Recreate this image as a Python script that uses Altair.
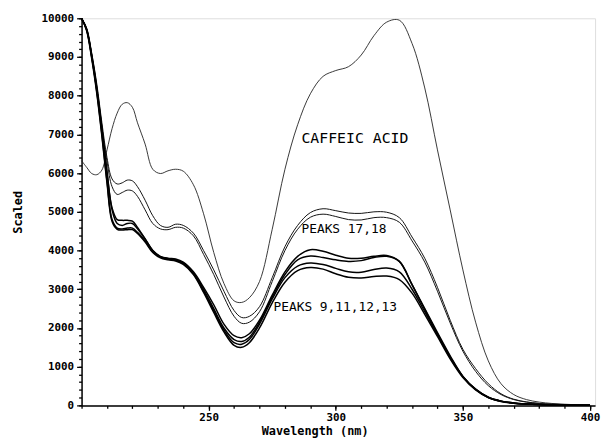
import altair as alt
import pandas as pd

wavelength = [200, 202, 204, 206, 208, 210, 212, 214, 216, 218, 220, 222, 225, 228, 231, 234, 237, 240,
              244, 248, 252, 256, 260, 263, 266, 270, 275, 280, 285, 290, 295, 300, 305, 310, 315, 320,
              325, 330, 335, 340, 345, 350, 355, 360, 365, 370, 375, 380, 385, 390, 395, 400]

caffeic = [6320, 6150, 5990, 5960, 6080, 6600, 7150, 7550, 7780, 7820, 7700, 7300, 6750, 6100, 5990, 6060, 6100, 6050,
           5700, 4950, 3950, 3150, 2700, 2660, 2780, 3200, 4550, 6100, 7250, 8050, 8500, 8650, 8750, 9050, 9550, 9900,
           9950, 9350, 8200, 6600, 5050, 3500, 2150, 1150, 560, 280, 150, 85, 50, 30, 15, 10]

peak17 = [10000, 9750, 9100, 8300, 7300, 6400, 5850, 5720, 5750, 5820, 5800, 5650, 5300, 4900, 4650, 4600, 4680, 4650,
          4450, 4000, 3500, 2950, 2450, 2270, 2300, 2550, 3300, 4100, 4650, 4980, 5080, 5030, 4970, 4960, 5000, 4990,
          4850, 4350, 3800, 3050, 2200, 1450, 950, 560, 300, 160, 90, 50, 30, 20, 10, 5]

peak18 = [10000, 9720, 9050, 8200, 7200, 6300, 5650, 5450, 5500, 5560, 5540, 5400, 5050, 4700, 4560, 4540, 4600, 4580,
          4380, 3900, 3380, 2800, 2300, 2120, 2150, 2420, 3200, 4000, 4550, 4860, 4940, 4880, 4800, 4790, 4850, 4850,
          4730, 4250, 3700, 2950, 2130, 1400, 880, 510, 280, 150, 85, 50, 30, 20, 10, 5]

bundle_a = [10000, 9700, 9000, 8150, 7100, 6000, 5100, 4800, 4780, 4780, 4760, 4600, 4300, 4000, 3850, 3800, 3780, 3700,
            3450, 3050, 2600, 2100, 1800, 1750, 1850, 2200, 2850, 3450, 3850, 4020, 3980, 3880, 3800, 3800, 3850, 3870,
            3720, 3120, 2500, 1880, 1280, 750, 420, 210, 110, 60, 35, 20, 12, 8, 5, 3]

bundle_b = [10000, 9720, 9050, 8200, 7150, 6050, 5050, 4700, 4650, 4700, 4700, 4560, 4300, 4000, 3840, 3790, 3760, 3680,
            3420, 3000, 2500, 2000, 1700, 1650, 1760, 2150, 2800, 3380, 3760, 3860, 3820, 3760, 3720, 3740, 3820, 3850,
            3720, 3120, 2480, 1850, 1250, 750, 420, 210, 110, 60, 35, 20, 12, 8, 5, 3]

bundle_c = [10000, 9700, 9000, 8100, 7000, 5800, 4800, 4580, 4560, 4580, 4580, 4470, 4250, 3970, 3830, 3780, 3750, 3660,
            3400, 2950, 2450, 1950, 1620, 1580, 1700, 2100, 2750, 3300, 3600, 3680, 3640, 3540, 3450, 3440, 3510, 3550,
            3450, 3000, 2420, 1820, 1230, 740, 410, 205, 105, 55, 33, 20, 12, 8, 5, 3]

bundle_d = [10000, 9680, 8950, 8050, 6950, 5750, 4750, 4550, 4530, 4540, 4540, 4440, 4220, 3950, 3810, 3760, 3730, 3640,
            3380, 2920, 2400, 1900, 1550, 1500, 1620, 2000, 2650, 3180, 3480, 3560, 3520, 3400, 3310, 3290, 3330, 3340,
            3250, 2900, 2350, 1780, 1200, 720, 400, 200, 100, 55, 33, 20, 12, 8, 5, 3]

series = {
    "Caffeic acid": ("caffeic", caffeic),
    "Peak 17": ("peaks1718", peak17),
    "Peak 18": ("peaks1718", peak18),
    "Peak 9": ("bundle", bundle_a),
    "Peak 11": ("bundle", bundle_b),
    "Peak 12": ("bundle", bundle_c),
    "Peak 13": ("bundle", bundle_d),
}

rows = []
for name, (group, vals) in series.items():
    for w, v in zip(wavelength, vals):
        rows.append({"series": name, "group": group, "wavelength": w, "value": v})
df = pd.DataFrame(rows)

label_text = ["CAFFEIC ACID", "PEAKS 17,18", "PEAKS 9,11,12,13"]
label_x = [286.5, 286.5, 275.5]
label_y = [6900, 4550, 2540]
label_size = [15, 13, 13]
labels = pd.DataFrame({"text": label_text, "x": label_x, "y": label_y, "size": label_size})

FONT = "DejaVu Sans Mono"
XDOM = [200, 402]
YDOM = [0, 10000]

common_axis = dict(grid=False, domainColor="black", domainWidth=1.5, tickColor="black", tickWidth=1.3,
                   labelFont=FONT, labelFontWeight="bold", labelFontSize=11, labelColor="black",
                   titleFont=FONT, titleFontWeight="bold", titleFontSize=12, titleColor="black")

x_major = alt.X("wavelength:Q", scale=alt.Scale(domain=XDOM, nice=False, zero=False),
                axis=alt.Axis(values=[250, 300, 350, 400], title="Wavelength (nm)", orient="bottom",
                              tickSize=5, labelPadding=1, titleX=236, titleY=25, titleBaseline="middle",
                              titleAlign="center", **common_axis))
y_major = alt.Y("value:Q", scale=alt.Scale(domain=YDOM, nice=False),
                axis=alt.Axis(values=list(range(0, 10001, 1000)), title="Scaled", orient="left",
                              tickSize=5, labelPadding=3, format="d", titleX=-65, titleBaseline="middle",
                              **common_axis))

base = alt.Chart(df)

def group_line(group, width, color):
    return base.transform_filter(alt.datum.group == group).mark_line(
        interpolate="catmull-rom", color=color, strokeWidth=width
    ).encode(x=x_major, y=y_major, detail="series:N")

lines = alt.layer(
    group_line("caffeic", 0.9, "#222222"),
    group_line("peaks1718", 1.0, "#111111"),
    group_line("bundle", 1.5, "#000000"),
)

minor = base.mark_line(opacity=0).encode(
    x=alt.X("wavelength:Q", scale=alt.Scale(domain=XDOM, nice=False, zero=False),
            axis=alt.Axis(values=list(range(200, 401, 10)), labels=False, title=None, orient="bottom",
                          tickSize=3, domain=False, **common_axis)),
    y=alt.Y("value:Q", scale=alt.Scale(domain=YDOM, nice=False),
            axis=alt.Axis(values=list(range(0, 10001, 200)), labels=False, title=None, orient="left",
                          tickSize=3, domain=False, **common_axis)),
    detail="series:N",
)

text = alt.Chart(labels).mark_text(align="left", baseline="middle", font=FONT, color="black").encode(
    x=alt.X("x:Q", scale=alt.Scale(domain=XDOM, nice=False, zero=False), axis=None),
    y=alt.Y("y:Q", scale=alt.Scale(domain=YDOM, nice=False), axis=None),
    text="text:N", size=alt.Size("size:Q", scale=None)
)

chart = alt.layer(minor, lines, text).resolve_axis(x="independent", y="independent").properties(
    width=520, height=392,
    autosize=alt.AutoSizeParams(type="none"),
    padding={"left": 74.5, "top": 7.7, "right": 6, "bottom": 31},
).configure_view(stroke=None).configure_axis(grid=False).configure(background="white")

chart.save("out.html", embed_options={"renderer": "svg", "actions": False})
